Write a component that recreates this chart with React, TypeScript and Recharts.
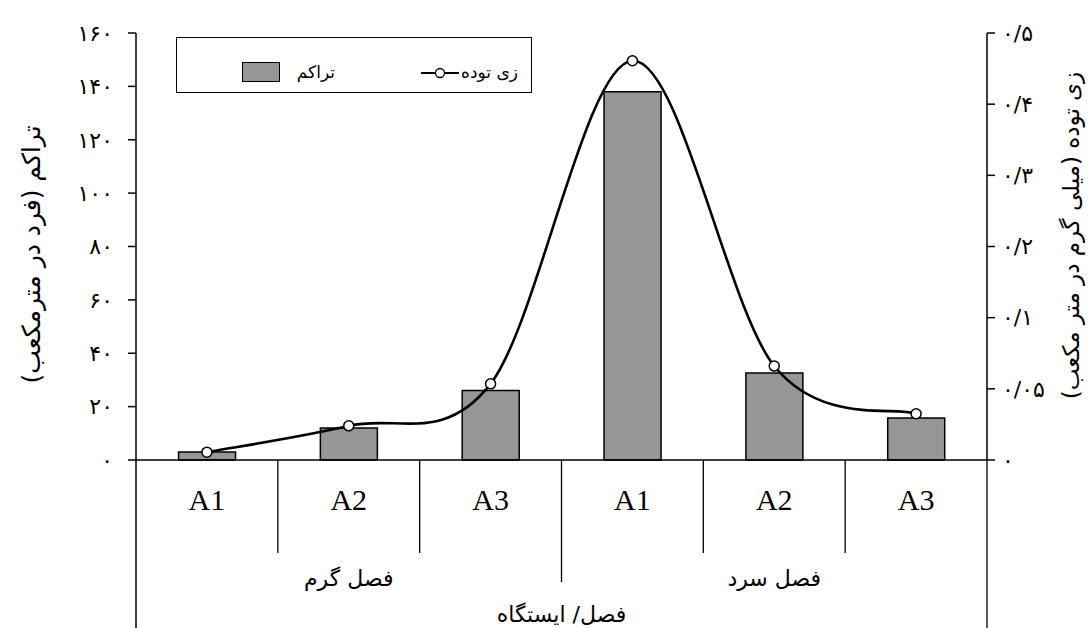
import React from 'react'
import {
  ComposedChart, Bar, Line, XAxis, YAxis, Legend,
} from 'recharts'

const stations = ['A1', 'A2', 'A3', 'A1', 'A2', 'A3']
const seasons = ['فصل گرم', 'فصل سرد']
// density (individuals per m3), left axis
const density = [3, 12, 26, 138, 32.6, 15.7]
// biomass, right axis (ticks are evenly spaced, labelled as in the original)
const biomass = [0.011, 0.048, 0.107, 0.561, 0.132, 0.065]
const leftTicks = [0, 20, 40, 60, 80, 100, 120, 140, 160]
const rightTicks = [0, 0.1, 0.2, 0.3, 0.4, 0.5, 0.6]
const rightTickLabels = ['۰', '۰/۰۵', '۰/۱', '۰/۲', '۰/۳', '۰/۴', '۰/۵']

const FA_FONT = "'DejaVu Sans', sans-serif"
const LATIN_FONT = "'Liberation Serif', 'Times New Roman', serif"

const data = stations.map((s, i) => ({ station: s, density: density[i], biomass: biomass[i] }))

function toFa(v: number | string): string {
  return String(v).replace(/[0-9]/g, d => '۰۱۲۳۴۵۶۷۸۹'[Number(d)]).replace('.', '/')
}

// catmull-rom style smoothing, close to the spreadsheet "smoothed line"
function smoothCurve(context: any) {
  let pts: number[][] = []
  return {
    areaStart() {},
    areaEnd() {},
    lineStart() { pts = [] },
    point(x: number, y: number) { pts.push([x, y]) },
    lineEnd() {
      const n = pts.length
      if (!n) return
      context.moveTo(pts[0][0], pts[0][1])
      for (let i = 0; i < n - 1; i++) {
        const p0 = pts[Math.max(i - 1, 0)]
        const p1 = pts[i]
        const p2 = pts[i + 1]
        const p3 = pts[Math.min(i + 2, n - 1)]
        context.bezierCurveTo(
          p1[0] + (p2[0] - p0[0]) / 6, p1[1] + (p2[1] - p0[1]) / 6,
          p2[0] - (p3[0] - p1[0]) / 6, p2[1] - (p3[1] - p1[1]) / 6,
          p2[0], p2[1],
        )
      }
    },
  }
}

function StationTick(props: any) {
  const { x, y, index, payload } = props
  const n = stations.length
  const bw = props.width ? props.width / n : 142
  const right = x + bw / 2
  const left = x - bw / 2
  let divLen = index === 2 ? 122 : 93
  if (index === n - 1) divLen = 168
  return (
    <g>
      <text x={x} y={y + 50} textAnchor="middle" fontFamily={LATIN_FONT} fontSize={30} fill="#000">
        {payload.value}
      </text>
      <line x1={right} y1={y} x2={right} y2={y + divLen} stroke="#000" strokeWidth={1.3} />
      {index === 0 && <line x1={left} y1={y} x2={left} y2={y + 168} stroke="#000" strokeWidth={1.5} />}
      {(index === 1 || index === 4) && (
        <text x={x} y={y + 126} textAnchor="middle" fontFamily={FA_FONT} fontSize={22} fill="#000">
          {seasons[index === 1 ? 0 : 1]}
        </text>
      )}
    </g>
  )
}

function LegendBox() {
  return (
    <div style={{
      width: 356, height: 56, border: '1.5px solid #000', boxSizing: 'border-box',
      position: 'relative', background: '#fff', fontFamily: FA_FONT, fontSize: 17, color: '#000',
    }}>
      <span style={{ position: 'absolute', right: 13, top: 23, lineHeight: '22px', direction: 'rtl', whiteSpace: 'nowrap' }}>زی توده</span>
      <svg width={38} height={14} style={{ position: 'absolute', left: 244, top: 28 }}>
        <line x1={0} y1={7} x2={38} y2={7} stroke="#000" strokeWidth={2} />
        <circle cx={19} cy={7} r={4.5} fill="#fff" stroke="#000" strokeWidth={1.3} />
      </svg>
      <span style={{ position: 'absolute', right: 196, top: 23, lineHeight: '22px', direction: 'rtl', whiteSpace: 'nowrap' }}>تراکم</span>
      <div style={{
        position: 'absolute', left: 65, top: 24, width: 38, height: 20,
        background: '#969696', border: '1.3px solid #000', boxSizing: 'border-box',
      }} />
    </div>
  )
}

function LeftTitle(props: any) {
  const vb = props.viewBox
  const cx = vb.x + 31
  const cy = vb.y + vb.height / 2 + 8
  return (
    <text x={cx} y={cy} transform={`rotate(-90, ${cx}, ${cy})`} textAnchor="middle" dominantBaseline="central"
      fontFamily={FA_FONT} fontSize={25} fill="#000">
      تراکم (فرد در مترمکعب)
    </text>
  )
}

function RightTitle(props: any) {
  const vb = props.viewBox
  const cx = vb.x + vb.width - 20
  const cy = vb.y + vb.height / 2 - 11
  return (
    <text x={cx} y={cy} transform={`rotate(-90, ${cx}, ${cy})`} textAnchor="middle" dominantBaseline="central"
      fontFamily={FA_FONT} fontSize={23} fill="#000">
      زی توده (میلی گرم در متر مکعب)
    </text>
  )
}

function BottomTitle(props: any) {
  const vb = props.viewBox
  const cx = vb.x + vb.width / 2
  return (
    <text x={cx} y={vb.y + 162} textAnchor="middle" fontFamily={FA_FONT} fontSize={22} fill="#000">
      فصل/ ایستگاه
    </text>
  )
}

export default function App() {
  return (
    <div style={{ position: 'absolute', left: 0, top: 0, background: '#fff' }}>
      <ComposedChart
        width={1091}
        height={628}
        data={data}
        margin={{ top: 33, right: 0, bottom: 0, left: 0 }}
        barCategoryGap="30%"
      >
        <XAxis
          dataKey="station"
          xAxisId={0}
          height={168}
          tickSize={0}
          tickMargin={0}
          tickLine={false}
          axisLine={{ stroke: '#000', strokeWidth: 1.5 }}
          tick={<StationTick />}
          interval={0}
          label={<BottomTitle />}
        />
        <YAxis
          yAxisId="left"
          orientation="left"
          width={136}
          domain={[0, 160]}
          ticks={leftTicks}
          interval={0}
          tickFormatter={(v: number) => toFa(v)}
          tickSize={8}
          tickMargin={15}
          axisLine={{ stroke: '#000', strokeWidth: 1.5 }}
          tickLine={{ stroke: '#000', strokeWidth: 1.5 }}
          tick={{ fontSize: 22, fontFamily: FA_FONT, fill: '#000', letterSpacing: 2 }}
          label={<LeftTitle />}
        />
        <YAxis
          yAxisId="right"
          orientation="right"
          width={104}
          domain={[0, 0.6]}
          ticks={rightTicks}
          interval={0}
          tickFormatter={(_v: number, i: number) => rightTickLabels[i]}
          tickSize={8}
          tickMargin={7}
          axisLine={{ stroke: '#000', strokeWidth: 1.5 }}
          tickLine={{ stroke: '#000', strokeWidth: 1.5 }}
          tick={{ fontSize: 22, fontFamily: FA_FONT, fill: '#000', letterSpacing: 1 }}
          label={<RightTitle />}
        />
        <Legend
          layout="vertical"
          align="center"
          verticalAlign="middle"
          content={() => <LegendBox />}
          wrapperStyle={{ position: 'absolute', left: 176, top: 37, width: 356, height: 56 }}
        />
        <Bar
          yAxisId="left"
          dataKey="density"
          name="تراکم"
          fill="#969696"
          stroke="#000"
          strokeWidth={1.5}
          isAnimationActive={false}
        />
        <Line
          yAxisId="right"
          dataKey="biomass"
          name="زی توده"
          type={smoothCurve as any}
          stroke="#000"
          strokeWidth={2.6}
          dot={{ r: 5, fill: '#fff', stroke: '#000', strokeWidth: 1.5 }}
          isAnimationActive={false}
        />
      </ComposedChart>
    </div>
  )
}
